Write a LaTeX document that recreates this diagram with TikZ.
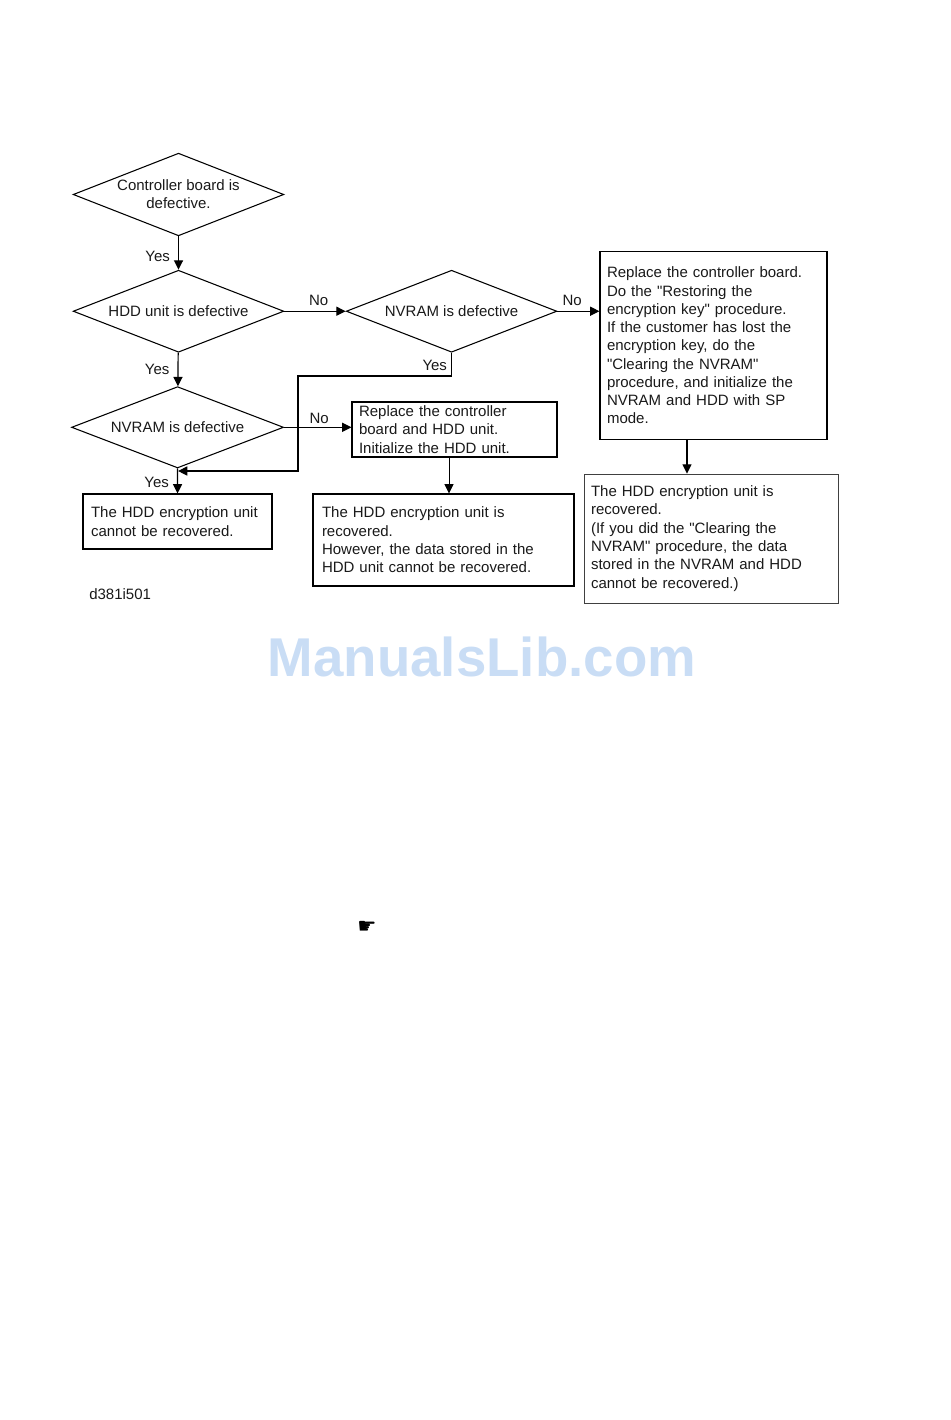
\documentclass[tikz,border=0pt]{standalone}
\usepackage{fontspec}
\setmainfont{Liberation Sans}[Ligatures=TeXOff]
\newfontfamily\symfont{DejaVu Sans}
\usetikzlibrary{arrows.meta, positioning, shapes.geometric}
\definecolor{markblue}{HTML}{C9DDF5}
\tikzset{
  basetext/.style={font=\fontsize{11.25}{13.7}\selectfont, text=black!90},
  decision/.style={basetext, draw, diamond, aspect=2.5, inner sep=0pt, align=center, line width=0.8pt},
  box/.style={basetext, draw, rectangle, inner xsep=6pt, inner ysep=0pt, align=left, line width=0.8pt},
  thinbox/.style={box, draw=black!75, line width=0.5pt},
  lab/.style={basetext, inner sep=0pt},
  flow/.style={-{Triangle[length=7pt,width=6.8pt]}, line width=0.9pt},
}

\begin{document}
\begin{tikzpicture}[x=0.75pt, y=-0.75pt]
  \useasboundingbox (0,0) rectangle (950,1420);

  \node[decision, minimum width=158pt, minimum height=62pt] (ctrl) at (178.5,194.5) {Controller board is\\defective.};
  \node[decision, minimum width=158pt, minimum height=61.5pt, below=25pt of ctrl] (hdd) {HDD unit is defective};
  \node[decision, minimum width=158pt, minimum height=61.5pt, right=46pt of hdd] (nvramr) {NVRAM is defective};
  \node[decision, minimum width=159pt, minimum height=61pt, below=25pt of hdd, xshift=-0.7pt] (nvraml) {NVRAM is defective};

  \node[box, minimum width=141.75pt, minimum height=41.25pt, text width=129.75pt] (lost) at (177.5,521.5)
    {The HDD encryption unit\\cannot be recovered.};
  \node[box, inner xsep=5.25pt, minimum width=153.75pt, minimum height=41.25pt, text width=143.25pt] (rephdd) at (454.5,429.5)
    {Replace the controller\\board and HDD unit.\\Initialize the HDD unit.};
  \node[box, inner xsep=6.75pt, minimum width=195.75pt, minimum height=69pt, text width=182.25pt] (kept) at (443.5,540)
    {The HDD encryption unit is\\recovered.\\However, the data stored in the\\HDD unit cannot be recovered.};
  \node[box, inner xsep=5.25pt, minimum width=170.25pt, minimum height=141pt, text width=159.75pt] (repctrl) at (713.5,345.5)
    {Replace the controller board.\\Do the "Restoring the\\encryption key" procedure.\\If the customer has lost the\\encryption key, do the\\"Clearing the NVRAM"\\procedure, and initialize the\\NVRAM and HDD with SP\\mode.};
  \node[thinbox, inner xsep=5.25pt, minimum width=190.5pt, minimum height=96.75pt, text width=180pt] (done) at (711,538.5)
    {The HDD encryption unit is\\recovered.\\(If you did the "Clearing the\\NVRAM" procedure, the data\\stored in the NVRAM and HDD\\cannot be recovered.)};

  \node[lab, anchor=west] (code) at (89,594) {d381i501};
  \node[font=\fontsize{41}{41}\selectfont\bfseries, text=markblue, inner sep=0pt] (mark) at (482,657) {ManualsLib.com};
  \node[font=\fontsize{16}{16}\selectfont\symfont, inner sep=0pt] (hand) at (367,927) {☛};

  \coordinate (merge) at (178,471);
  \coordinate (bend) at (298,376);
  \coordinate (rephddout) at (449,457);
  \coordinate (repctrlout) at (687,440);

  \draw[flow] (ctrl) -- node[lab, left=6pt, pos=.6] (yesa) {Yes} (hdd);
  \draw[flow] (hdd) -- node[lab, left=6pt, pos=.5] (yesb) {Yes} (nvraml);
  \draw[flow] (nvraml) -- node[lab, left=6pt, pos=.55] (yesc) {Yes} (lost);
  \draw[flow] (hdd) -- node[lab, above=4pt, pos=.56] (noa) {No} (nvramr);
  \draw[flow] (nvraml) -- node[lab, above=2.5pt, pos=.52] (nob) {No} (rephdd.west |- nvraml);
  \draw[flow] (nvramr) -- node[lab, above=4pt, pos=.35] (noc) {No} (nvramr -| repctrl.west);
  \draw[flow] (nvramr) -- node[lab, left=3pt, pos=.55] (yesd) {Yes} (nvramr |- bend) -- (bend) -- (bend |- merge) -- (merge);
  \draw[flow, line width=0.6pt] (rephddout) -- (rephddout |- kept.north);
  \draw[flow] (repctrlout) -- (repctrlout |- done.north);
\end{tikzpicture}
\end{document}
